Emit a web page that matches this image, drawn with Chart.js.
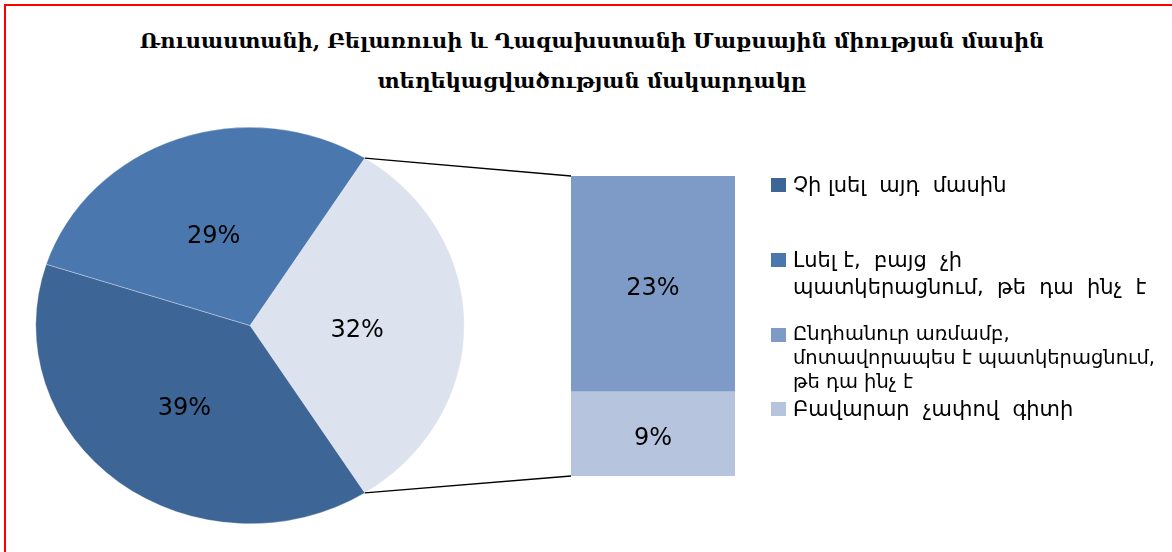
<!DOCTYPE html>
<html>
<head>
<meta charset="utf-8">
<script src="https://cdn.jsdelivr.net/npm/chart.js@4.4.1/dist/chart.umd.min.js"></script>
<style>
  html, body { margin: 0; padding: 0; background: #fff; }
  body { width: 1172px; height: 552px; overflow: hidden; position: relative; }
  #frame { position: absolute; left: 4px; top: 4px; width: 1200px; height: 600px; border: 2px solid #ff0000; box-sizing: border-box; }
  .title { position: absolute; left: 0; width: 1184px; text-align: center; font-family: "DejaVu Serif", serif; font-weight: bold; font-size: 21px; color: #000; white-space: nowrap; }
  #pieBox { position: absolute; left: 20px; top: 120px; width: 460px; height: 411px; }
  #barBox { position: absolute; left: 571px; top: 176px; width: 164px; height: 300px; }
  #lines { position: absolute; left: 0; top: 0; pointer-events: none; }
  .leg { position: absolute; left: 771px; font-family: "DejaVu Sans", sans-serif; font-size: 21px; color: #000; white-space: pre; }
  .leg span.box { position: absolute; left: 0; width: 15px; height: 14px; }
  .leg span.txt { position: absolute; left: 22px; top: -6px; }
</style>
</head>
<body>
<div id="frame"></div>
<div class="title" id="title1" style="top:28px"></div>
<div class="title" id="title2" style="top:68px"></div>
<div id="pieBox"><canvas id="pieChart"></canvas></div>
<div id="barBox"><canvas id="barChart"></canvas></div>
<canvas id="lines" width="1172" height="552"></canvas>
<div id="legend"></div>
<script>
// titles
const titleLines = [
  'Ռուսաստանի, Բելառուսի և Ղազախստանի Մաքսային միության մասին',
  'տեղեկացվածության մակարդակը'
];

// pie: first slice is the one broken out into the bar
const pieLabels = ['Այլ', 'Չի լսել այդ մասին', 'Լսել է, բայց չի պատկերացնում, թե դա ինչ է'];
const pieValues = [32, 39, 29];
const pieColors = ['#dce2ee', '#3d6596', '#4a78ae'];

// bar (stacked, bottom first)
const barLabels = ['Բավարար չափով գիտի', 'Ընդհանուր առմամբ, մոտավորապես է պատկերացնում, թե դա ինչ է'];
const barValues = [9, 23];
const barColors = ['#b6c4de', '#7e9bc7'];

// legend
const legendLabels = [
  'Չի լսել  այդ  մասին',
  'Լսել է,  բայց  չի\nպատկերացնում,  թե  դա  ինչ  է',
  'Ընդհանուր առմամբ,\nմոտավորապես է պատկերացնում,\nթե դա ինչ է',
  'Բավարար  չափով  գիտի'
];
const legendColors = ['#3d6596', '#4a78ae', '#7e9bc7', '#b6c4de'];
const legendTops = [178, 253, 328, 402];     // layout only
const legendLineHeights = [27, 27, 24, 27];  // layout only
const legendFontSizes = [21, 21, 19.5, 21];  // layout only

document.getElementById('title1').textContent = titleLines[0];
document.getElementById('title2').textContent = titleLines[1];

// legend build
const legendEl = document.getElementById('legend');
legendLabels.forEach(function(lbl, i) {
  const item = document.createElement('div');
  item.className = 'leg';
  item.style.top = legendTops[i] + 'px';
  item.style.lineHeight = legendLineHeights[i] + 'px';
  item.style.fontSize = legendFontSizes[i] + 'px';
  const box = document.createElement('span');
  box.className = 'box';
  box.style.background = legendColors[i];
  const txt = document.createElement('span');
  txt.className = 'txt';
  txt.textContent = lbl;
  item.appendChild(box);
  item.appendChild(txt);
  legendEl.appendChild(item);
});

const pieTotal = pieValues.reduce((a, b) => a + b, 0);
const stretchX = 214.5 / 198.5; // pie in the picture is a bit wider than tall
const labelFont = '24px "DejaVu Sans", sans-serif';

// stretch the pie horizontally, then put the % labels on top
const ellipsePlugin = {
  id: 'ellipse',
  beforeDatasetsDraw(chart) {
    const arc = chart.getDatasetMeta(0).data[0];
    const ctx = chart.ctx;
    ctx.save();
    ctx.translate(arc.x, arc.y);
    ctx.scale(stretchX, 1);
    ctx.translate(-arc.x, -arc.y);
  },
  afterDatasetsDraw(chart) {
    const ctx = chart.ctx;
    ctx.restore();
    const meta = chart.getDatasetMeta(0);
    ctx.save();
    ctx.font = labelFont;
    ctx.fillStyle = '#000';
    ctx.textAlign = 'center';
    ctx.textBaseline = 'middle';
    meta.data.forEach(function(arc, i) {
      const p = arc.tooltipPosition();
      const x = arc.x + (p.x - arc.x) * stretchX;
      ctx.fillText(pieValues[i] + '%', x, p.y + 5);
    });
    ctx.restore();
  }
};

const pieChart = new Chart(document.getElementById('pieChart'), {
  type: 'pie',
  data: {
    labels: pieLabels,
    datasets: [{
      data: pieValues,
      backgroundColor: pieColors,
      borderWidth: 0.5,
      borderColor: 'rgba(255,255,255,0.6)'
    }]
  },
  options: {
    responsive: true,
    maintainAspectRatio: false,
    animation: false,
    rotation: 90 - pieValues[0] / pieTotal * 180,
    layout: { padding: 7 },
    plugins: { legend: { display: false }, tooltip: { enabled: false } }
  },
  plugins: [ellipsePlugin]
});

const barLabelPlugin = {
  id: 'barLabels',
  afterDatasetsDraw(chart) {
    const ctx = chart.ctx;
    ctx.save();
    ctx.font = labelFont;
    ctx.fillStyle = '#000';
    ctx.textAlign = 'center';
    ctx.textBaseline = 'middle';
    chart.data.datasets.forEach(function(ds, i) {
      const bar = chart.getDatasetMeta(i).data[0];
      ctx.fillText(ds.data[0] + '%', bar.x, (bar.y + bar.base) / 2 + 5);
    });
    ctx.restore();
  }
};

const barChart = new Chart(document.getElementById('barChart'), {
  type: 'bar',
  data: {
    labels: [''],
    datasets: barValues.map(function(v, i) {
      return {
        label: barLabels[i],
        data: [v],
        backgroundColor: barColors[i],
        borderWidth: 0,
        barPercentage: 1,
        categoryPercentage: 1
      };
    })
  },
  options: {
    responsive: true,
    maintainAspectRatio: false,
    animation: false,
    layout: { padding: 0 },
    scales: {
      x: { display: false, stacked: true },
      y: { display: false, stacked: true, min: 0, max: pieValues[0] }
    },
    plugins: { legend: { display: false }, tooltip: { enabled: false } }
  },
  plugins: [barLabelPlugin]
});

// connector lines from the broken-out slice to the bar
function drawConnectors() {
  const ctx = document.getElementById('lines').getContext('2d');
  const pieRect = document.getElementById('pieBox').getBoundingClientRect();
  const barRect = document.getElementById('barBox').getBoundingClientRect();
  const arc = pieChart.getDatasetMeta(0).data[0];
  const topBar = barChart.getDatasetMeta(1).data[0];
  const botBar = barChart.getDatasetMeta(0).data[0];
  const left = topBar.x - topBar.width / 2;
  const pts = [
    [arc.startAngle, barRect.left + left, barRect.top + topBar.y],
    [arc.endAngle, barRect.left + left, barRect.top + botBar.base]
  ];
  ctx.strokeStyle = '#000';
  ctx.lineWidth = 1.3;
  pts.forEach(function(p) {
    const sx = pieRect.left + arc.x + Math.cos(p[0]) * arc.outerRadius * stretchX;
    const sy = pieRect.top + arc.y + Math.sin(p[0]) * arc.outerRadius;
    ctx.beginPath();
    ctx.moveTo(sx, sy);
    ctx.lineTo(p[1], p[2]);
    ctx.stroke();
  });
}
drawConnectors();
</script>
</body>
</html>
